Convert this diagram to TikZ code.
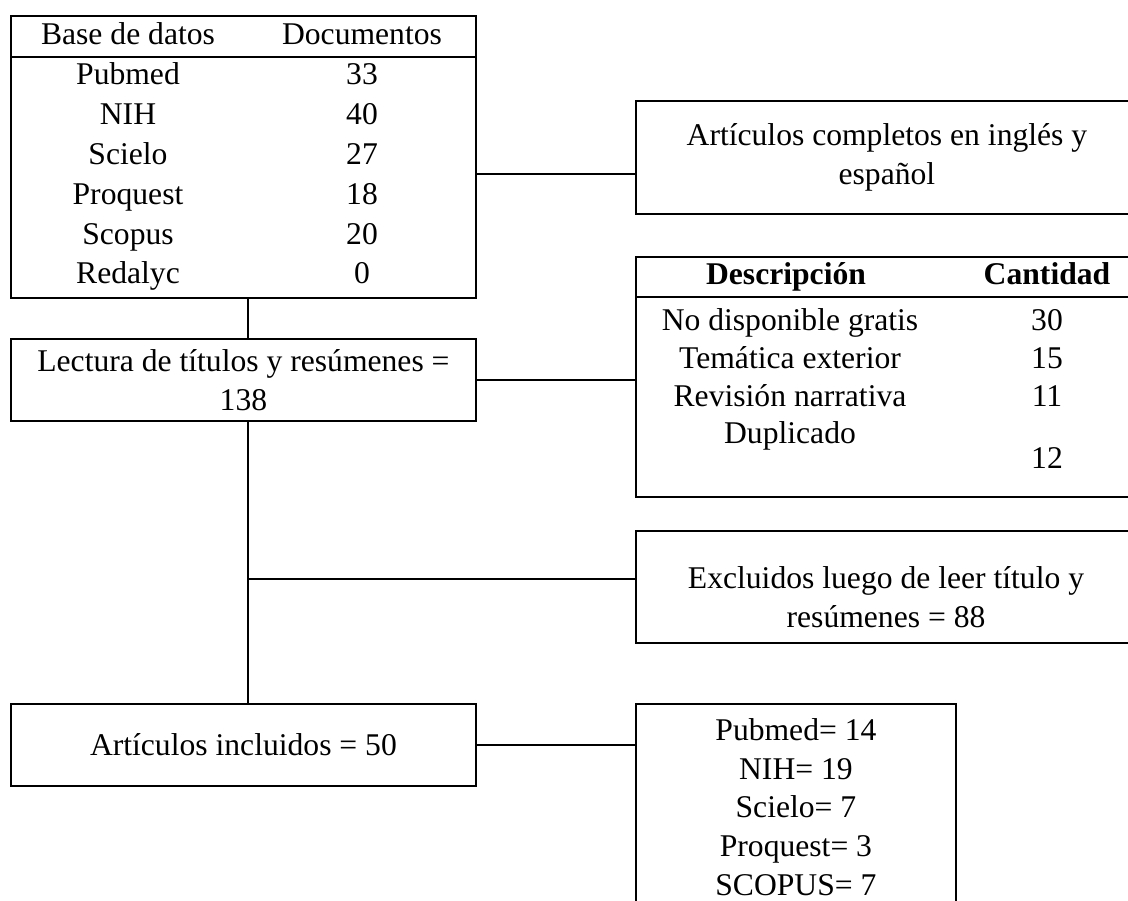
\documentclass[tikz,border=0pt]{standalone}
\usepackage{fontspec}
\setmainfont{Liberation Serif}
\usetikzlibrary{positioning}
\tikzset{every node/.style={font=\fontsize{18}{22}\selectfont},
  caja/.style={draw,line width=1.1pt,anchor=north west,inner sep=0pt,align=center},
  celda/.style={text height=12pt,text depth=4pt},
  linea/.style={line width=1.1pt}}

\begin{document}
\begin{tikzpicture}[x=0.02cm,y=-0.02cm]
    \useasboundingbox (0,0) rectangle (1128,901);
    \clip (0,0) rectangle (1128,901);
    % tabla de bases de datos
    \node[caja,minimum width=9.3cm,minimum height=5.64cm] (basedatos) at (10,15) {};
    \draw[linea] (basedatos.west |- 0,57) -- (basedatos.east |- 0,57);
    \node[celda] (cab1) at (128,37) {Base de datos};
    \node[celda] (cab2) at (362,37) {Documentos};
    \foreach \bd/\n [count=\i] in {Pubmed/33,NIH/40,Scielo/27,Proquest/18,Scopus/20,Redalyc/0}
    {
        \node[celda] (bd\i) at (128,38+39.8*\i) {\bd};
        \node[celda] (doc\i) at (362,38+39.8*\i) {\n};
    }
    \node[caja,minimum width=10.04cm,minimum height=2.26cm] (completos) at (635,100)
        {Artículos completos en inglés y\\español};
    \node[caja,minimum width=9.3cm,minimum height=1.64cm] (lectura) at (10,338)
        {Lectura de títulos y resúmenes =\\138};
    % tabla de exclusiones
    \node[caja,minimum width=10.04cm,minimum height=4.8cm] (descripcion) at (635,256) {};
    \draw[linea] (descripcion.west |- 0,297) -- (descripcion.east |- 0,297);
    \node[celda] (cab3) at (786,277) {\textbf{Descripción}};
    \node[celda] (cab4) at (1047,277) {\textbf{Cantidad}};
    \foreach \d/\c [count=\i] in {No disponible gratis/30,Temática exterior/15,Revisión narrativa/11}
    {
        \node[celda] (desc\i) at (790,285+38*\i) {\d};
        \node[celda] (cant\i) at (1047,285+38*\i) {\c};
    }
    \node[celda] (desc4) at (790,436) {Duplicado};
    \node[celda] (cant4) at (1047,461) {12};
    \node[caja,minimum width=10.04cm,minimum height=2.24cm] (excluidos) at (635,530) {};
    \node[align=center] (textoexcl) at (886,597)
        {Excluidos luego de leer título y\\resúmenes = 88};
    \node[caja,minimum width=9.3cm,minimum height=1.64cm] (incluidos) at (10,703)
        {Artículos incluidos = 50};
    \node[caja,minimum width=6.4cm,minimum height=4.12cm] (fuentes) at (635,703)
        {Pubmed= 14\\NIH= 19\\Scielo= 7\\Proquest= 3\\SCOPUS= 7};
    % conectores
    \coordinate (eje) at (248,0);
    \draw[linea] ([yshift=-0.34cm]basedatos.east) -- ([yshift=-0.34cm]basedatos.east -| completos.west);
    \draw[linea] (eje |- basedatos.south) -- (eje |- lectura.north);
    \draw[linea] (lectura.east) -- (lectura.east -| descripcion.west);
    \draw[linea] (eje |- lectura.south) -- (eje |- incluidos.north);
    \draw[linea] ([yshift=0.16cm]eje |- excluidos.west) -- ([yshift=0.16cm]excluidos.west);
    \draw[linea] (incluidos.east) -- (incluidos.east -| fuentes.west);
\end{tikzpicture}
\end{document}
